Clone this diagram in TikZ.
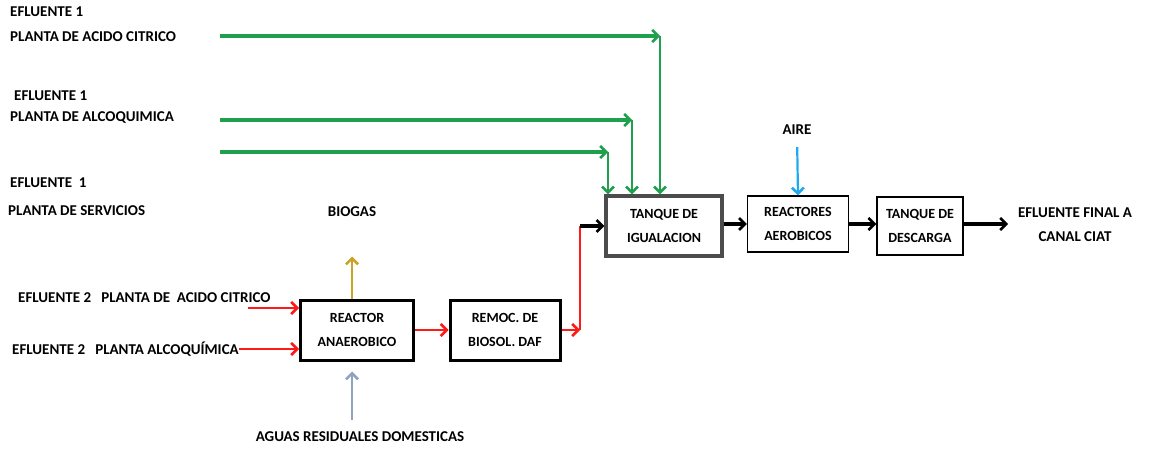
\documentclass[tikz,border=0pt]{standalone}
\usepackage{fontspec}
\setmainfont{Carlito}
\usepackage{tikz}
\usetikzlibrary{arrows.meta,positioning,calc}
\definecolor{flowgreen}{HTML}{1FA04E}
\definecolor{flowred}{HTML}{FF1A1A}
\definecolor{gold}{HTML}{C9A227}
\definecolor{skyblue}{HTML}{1EAAF0}
\definecolor{slate}{HTML}{8EA4BE}
\tikzset{
  lbl/.style={font=\bfseries\fontsize{15}{24}\selectfont,inner sep=0pt},
  box/.style={draw,line width=3pt,font=\bfseries\fontsize{14}{24}\selectfont,align=center,inner sep=0pt},
  flow/.style={line width=3.2pt,-{Straight Barb[length=6pt,width=12pt,line width=2.6pt]}},
  gflow/.style={flow,flowgreen},
  rflow/.style={flow,flowred,line width=2.6pt},
  kflow/.style={flow,black}
}
\begin{document}
\begin{tikzpicture}[x=1pt,y=-1pt,font=\bfseries\fontsize{15}{24}\selectfont]
\useasboundingbox (0,0) rectangle (1159,452);
\node[lbl,anchor=west] (e1a) at (10,12) {EFLUENTE 1};
\node[lbl,anchor=west] (p1a) at (10,37) {PLANTA DE ACIDO CITRICO};
\node[lbl,anchor=west] (e1b) at (14,96) {EFLUENTE 1};
\node[lbl,anchor=west] (p1b) at (10,118) {PLANTA DE ALCOQUIMICA};
\node[lbl,anchor=west] (e1c) at (10,183) {EFLUENTE\ \ 1};
\node[lbl,anchor=west] (p1c) at (8,211) {PLANTA DE SERVICIOS};
\node[lbl,anchor=west] (e2a) at (18,298) {EFLUENTE 2\ \ \ PLANTA DE\ \ ACIDO CITRICO};
\node[lbl,anchor=west] (e2b) at (12,349) {EFLUENTE 2\ \ \ PLANTA ALCOQUÍMICA};
\node[lbl] (biogas) at (352,212) {BIOGAS};
\node[lbl] (aguas) at (360,437) {AGUAS RESIDUALES DOMESTICAS};
\node[lbl] (aire) at (797,130) {AIRE};
\node[lbl,align=center] (final) at (1075,225) {EFLUENTE FINAL A\\CANAL CIAT};
\node[box,minimum width=113pt,minimum height=60pt] (reactor) at (357,330) {REACTOR\\ANAEROBICO};
\node[box,minimum width=110pt,minimum height=60pt] (remoc) at (505,330) {REMOC. DE\\BIOSOL. DAF};
\node[box,draw=black!70,line width=3.2pt,minimum width=116pt,minimum height=60pt] (tanque) at (664,226) {TANQUE DE\\IGUALACION};
\node[box,line width=1.2pt,minimum width=101pt,minimum height=56pt] (reactores) at (798,224) {REACTORES\\AEROBICOS};
\node[box,line width=1.5pt,minimum width=86pt,minimum height=58pt] (descarga) at (920,226) {TANQUE DE\\DESCARGA};
\coordinate (g1s) at (220,36); \coordinate (g1c) at (660,36);
\coordinate (g2s) at (220,120); \coordinate (g2c) at (632,120);
\coordinate (g3s) at (220,152); \coordinate (g3c) at (608,152);
\coordinate (rc) at (580,330);
\coordinate (rt) at (rc |- tanque.west);
\coordinate (r1s) at (248,308);
\coordinate (out) at (1008,224);
\draw[gflow] (g1s) -- (g1c);
\draw[gflow,line width=2.2pt] (g1c) -- (g1c |- tanque.north);
\draw[gflow] (g2s) -- (g2c);
\draw[gflow,line width=2.2pt] (g2c) -- (g2c |- tanque.north);
\draw[gflow] (g3s) -- (g3c);
\draw[gflow,line width=2.2pt] (g3c) -- (g3c |- tanque.north);
\draw[rflow] (r1s) -- (reactor.west |- r1s);
\draw[rflow] (e2b.east) -- (reactor.west |- e2b.east);
\draw[rflow] (reactor.east) -- (remoc.west);
\draw[rflow] (remoc.east) -- (rc);
\draw[flowred,line width=2.4pt] (rc) -- (rt);
\draw[kflow] (rt) -- (tanque.west);
\draw[kflow] (tanque.east |- reactores.west) -- (reactores.west);
\draw[kflow] (reactores.east) -- (descarga.west |- reactores.east);
\draw[kflow] (descarga.east |- out) -- (out);
\draw[flow,gold,line width=2.6pt] (reactor.north -| biogas) -- ++(0,-42);
\draw[flow,slate,line width=2.6pt,shorten <=12pt,shorten >=10pt] (aguas.north -| biogas) -- (reactor.south -| biogas);
\draw[flow,skyblue,line width=2.2pt,shorten <=12pt] (aire.south) -- (reactores.north);
\end{tikzpicture}
\end{document}
